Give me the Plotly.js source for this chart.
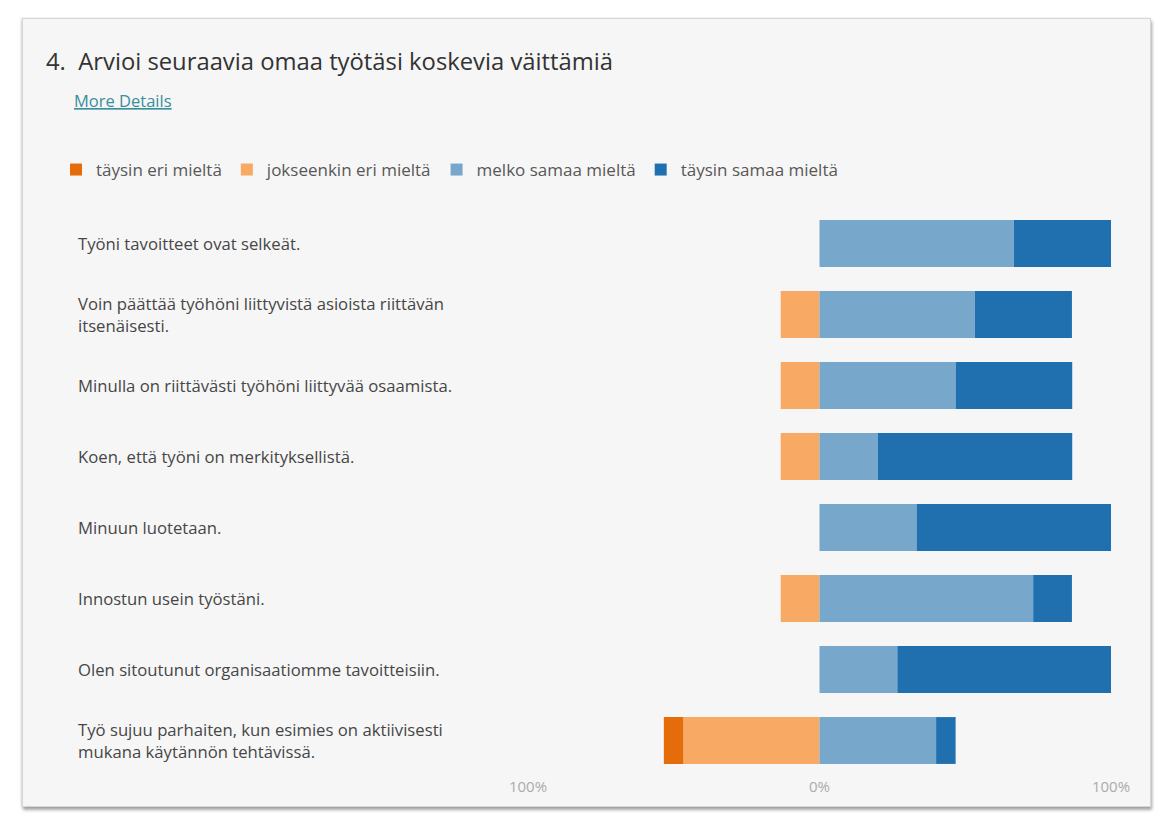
<!DOCTYPE html>
<html>
<head>
<meta charset="utf-8">
<script src="https://cdn.plot.ly/plotly-3.0.1.min.js"></script>
<style>
  html, body { margin: 0; padding: 0; background: #ffffff; width: 1166px; height: 818px; overflow: hidden; }
  #card { position: absolute; left: 22px; top: 18px; width: 1127px; height: 787px;
          background: #f6f6f6; border: 1px solid #d6d6d6;
          box-shadow: 1px 3px 3px rgba(0,0,0,0.35), -1px 0 2px rgba(0,0,0,0.12); }
  #chart { position: absolute; left: 0; top: 0; width: 1166px; height: 818px; }
</style>
</head>
<body>
<div id="card"></div>
<div id="chart"></div>
<script>
// Statements (top to bottom)
const categories = [
  "Työni tavoitteet ovat selkeät.",
  "Voin päättää työhöni liittyvistä asioista riittävän<br>itsenäisesti.",
  "Minulla on riittävästi työhöni liittyvää osaamista.",
  "Koen, että työni on merkityksellistä.",
  "Minuun luotetaan.",
  "Innostun usein työstäni.",
  "Olen sitoutunut organisaatiomme tavoitteisiin.",
  "Työ sujuu parhaiten, kun esimies on aktiivisesti<br>mukana käytännön tehtävissä."
];
const seriesNames = ["täysin eri mieltä", "jokseenkin eri mieltä", "melko samaa mieltä", "täysin samaa mieltä"];
// Shares of answers, percent
const taysinEri   = [0, 0, 0, 0, 0, 0, 0, 6.7];
const jokseenkin  = [0, 13.3, 13.3, 13.3, 0, 13.3, 0, 46.7];
const melko       = [66.7, 53.3, 46.7, 20.0, 33.3, 73.3, 26.7, 40.0];
const taysinSamaa = [33.3, 33.3, 40.0, 66.7, 66.7, 13.3, 73.3, 6.7];
const tickVals = [-100, 0, 100];
const tickText = ["100%", "0%", "100%"];

const colors = {
  taysinEri: "#e46c0a",
  jokseenkin: "#f8a964",
  melko: "#77a8cc",
  taysinSamaa: "#2070b0"
};
const FONT = "Open Sans, Noto Sans, sans-serif";

function bar(name, vals, color, rank, negative) {
  return {
    type: "bar", orientation: "h", name: name,
    y: categories,
    x: vals.map(v => negative ? -v : v),
    marker: { color: color, line: { width: 0 } },
    legendrank: rank,
    hoverinfo: "name+y"
  };
}

const data = [
  bar(seriesNames[1], jokseenkin, colors.jokseenkin, 2, true),
  bar(seriesNames[0], taysinEri, colors.taysinEri, 1, true),
  bar(seriesNames[2], melko, colors.melko, 3, false),
  bar(seriesNames[3], taysinSamaa, colors.taysinSamaa, 4, false)
];

const L = 528, R = 1111, T = 208, B = 776;
const W = 1166, H = 818;
const px2x = px => (px - L) / (R - L);
const py2y = py => (B - py) / (B - T);

const labelAnnotations = categories.map(c => ({
  xref: "paper", yref: "y", x: px2x(76), y: c,
  xanchor: "left", yanchor: "middle", align: "left",
  text: c, showarrow: false,
  font: { family: FONT, size: 16.7, color: "#464646" }
}));

const layout = {
  width: W, height: H,
  margin: { l: L, r: W - R, t: T, b: H - B, pad: 0 },
  paper_bgcolor: "rgba(0,0,0,0)",
  plot_bgcolor: "rgba(0,0,0,0)",
  barmode: "relative",
  bargap: 0.34,
  showlegend: true,
  title: {
    text: "4.  Arvioi seuraavia omaa työtäsi koskevia väittämiä",
    xref: "container", yref: "container",
    x: 46 / W, xanchor: "left",
    y: 1 - 62 / H, yanchor: "middle",
    font: { family: FONT, size: 23.8, color: "#333333" }
  },
  legend: {
    orientation: "h",
    x: px2x(56), xanchor: "left",
    y: py2y(170), yanchor: "middle",
    bgcolor: "rgba(0,0,0,0)",
    traceorder: "normal",
    font: { family: FONT, size: 17, color: "#585858" }
  },
  xaxis: {
    range: [-100, 100],
    tickvals: tickVals, ticktext: tickText,
    showgrid: false, zeroline: false, showline: false,
    ticks: "",
    tickfont: { family: FONT, size: 15, color: "#ababab" },
    minor: { tickvals: [-100, 100], showgrid: true, gridcolor: "#e2e2e2", gridwidth: 1, ticks: "" },
    fixedrange: true
  },
  yaxis: {
    type: "category",
    categoryorder: "array", categoryarray: categories,
    autorange: "reversed",
    showticklabels: false, showgrid: false, zeroline: false, showline: false,
    ticks: "", fixedrange: true
  },
  annotations: labelAnnotations.concat([{
    xref: "paper", yref: "paper", x: px2x(72), y: py2y(100),
    xanchor: "left", yanchor: "middle", showarrow: false,
    text: '<span style="text-decoration:underline">More Details</span>',
    font: { family: FONT, size: 16.5, color: "#3b8e9b" }
  }])
};

Plotly.newPlot("chart", data, layout, { displayModeBar: false, staticPlot: true });
</script>
</body>
</html>
